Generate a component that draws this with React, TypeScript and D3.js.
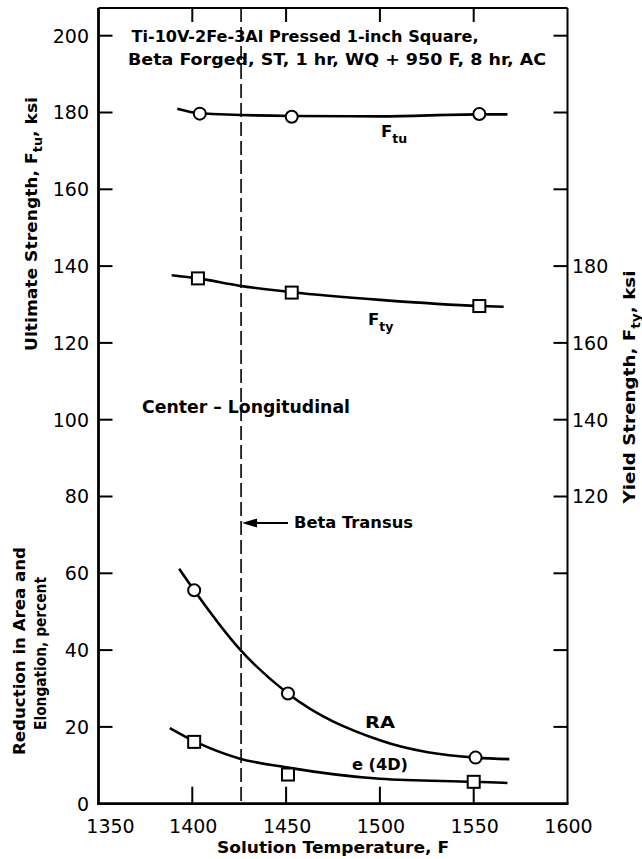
import React from "react";
import * as d3 from "d3";

// ---- data ----
const xTicks = [1350, 1400, 1450, 1500, 1550, 1600];
const topTicks = [1400, 1450, 1500, 1550];
const leftTicks = [0, 20, 40, 60, 80, 100, 120, 140, 160, 180, 200];
const rightTickLabels = [120, 140, 160, 180];
const betaTransus = 1426;

// Ultimate strength (left axis, ksi)
const ftuTemps = [1404, 1453, 1553];
const ftuValues = [179.7, 178.9, 179.6];
const ftuCurveTemps = [1392, 1404, 1453, 1500, 1553, 1568];
const ftuCurveValues = [181.0, 179.8, 179.1, 179.0, 179.5, 179.5];

// Yield strength (right axis, ksi)
const ftyTemps = [1403, 1453, 1553];
const ftyValues = [176.8, 173.1, 169.6];
const ftyCurveTemps = [1389, 1403, 1425, 1453, 1500, 1553, 1566];
const ftyCurveValues = [177.6, 176.8, 174.9, 173.2, 171.2, 169.6, 169.4];

// Reduction in area (percent)
const raTemps = [1401, 1451, 1551];
const raValues = [55.6, 28.7, 12.0];
const raCurveTemps = [1393, 1401, 1425, 1451, 1500, 1551, 1569];
const raCurveValues = [61.2, 55.6, 40.4, 28.7, 16.5, 12.0, 11.6];

// Elongation (percent)
const elTemps = [1401, 1451, 1550];
const elValues = [16.1, 7.6, 5.7];
const elCurveTemps = [1388, 1401, 1425, 1451, 1500, 1550, 1568];
const elCurveValues = [19.7, 16.3, 11.8, 9.4, 6.5, 5.7, 5.4];

const W = 642;
const H = 859;
const TOP = 8;
const BOLD = "'DejaVu Sans', sans-serif";

export default function App() {
  const x = d3.scaleLinear().domain([1350, 1600]).range([98.5, 567.5]);
  const y = d3.scaleLinear().domain([0, 200]).range([803.7, 35.7]);
  const yR = (v: number) => y(v - 40);
  const left = x(1350);
  const right = x(1600);
  const bottom = y(0);

  const mkLine = (ys: (v: number) => number) =>
    d3
      .line<[number, number]>()
      .x((d) => x(d[0]))
      .y((d) => ys(d[1]))
      .curve(d3.curveMonotoneX);

  const zip = (a: number[], b: number[]) => a.map((t, i) => [t, b[i]] as [number, number]);

  const lineL = mkLine(y);
  const lineR = mkLine(yR);

  const circle = (cx: number, cy: number, k: string) => (
    <circle key={k} cx={cx} cy={cy} r={6} fill="#fff" stroke="#000" strokeWidth={2} />
  );
  const square = (cx: number, cy: number, k: string) => (
    <rect key={k} x={cx - 6} y={cy - 6} width={12} height={12} fill="#fff" stroke="#000" strokeWidth={2} />
  );

  const tickFont = { fontFamily: "'DejaVu Sans', sans-serif", fontSize: 19, fill: "#000" } as const;
  const boldFont = { fontFamily: BOLD, fontWeight: "bold" as const, fill: "#000" };

  return (
    <svg
      width={W}
      height={H}
      viewBox={`0 0 ${W} ${H}`}
      style={{ position: "absolute", left: 0, top: 0, background: "#fff" }}
    >
      <rect x={0} y={0} width={W} height={H} fill="#fff" />

      {/* frame */}
      <line x1={left} y1={TOP} x2={left} y2={bottom} stroke="#000" strokeWidth={2.8} />
      <line x1={left - 1.4} y1={bottom} x2={right + 1} y2={bottom} stroke="#000" strokeWidth={2.8} />
      <line x1={left} y1={TOP} x2={right} y2={TOP} stroke="#000" strokeWidth={2} />
      <line x1={right} y1={TOP} x2={right} y2={bottom} stroke="#000" strokeWidth={2} />

      {/* left ticks + labels */}
      {leftTicks.map((v) => (
        <g key={"lt" + v}>
          {v > 0 && <line x1={left} x2={left + 14} y1={y(v)} y2={y(v)} stroke="#000" strokeWidth={2} />}
          {v > 0 && <line x1={right} x2={right - 14} y1={y(v)} y2={y(v)} stroke="#000" strokeWidth={2} />}
          <text x={89} y={y(v)} dy="0.36em" textAnchor="end" {...tickFont}>
            {v}
          </text>
        </g>
      ))}

      {/* right tick labels */}
      {rightTickLabels.map((v) => (
        <text key={"rt" + v} x={572} y={yR(v)} dy="0.36em" textAnchor="start" {...tickFont}>
          {v}
        </text>
      ))}

      {/* bottom ticks + labels */}
      {xTicks.map((t) => (
        <g key={"bt" + t}>
          {t > 1350 && t < 1600 && (
            <line x1={x(t)} x2={x(t)} y1={bottom} y2={bottom - 17} stroke="#000" strokeWidth={2} />
          )}
          <text x={x(t) + (t === 1350 ? 12 : 1)} y={833} textAnchor="middle" {...tickFont}>
            {t}
          </text>
        </g>
      ))}
      {topTicks.map((t) => (
        <line key={"tt" + t} x1={x(t)} x2={x(t)} y1={TOP} y2={TOP + 14} stroke="#000" strokeWidth={2} />
      ))}

      {/* beta transus dashed line */}
      <line
        x1={x(betaTransus)}
        x2={x(betaTransus)}
        y1={TOP}
        y2={bottom}
        stroke="#000"
        strokeWidth={1.6}
        strokeDasharray="14 5"
      />

      {/* curves */}
      <path d={lineL(zip(ftuCurveTemps, ftuCurveValues)) || ""} fill="none" stroke="#000" strokeWidth={2.6} />
      <path d={lineR(zip(ftyCurveTemps, ftyCurveValues)) || ""} fill="none" stroke="#000" strokeWidth={2.6} />
      <path d={lineL(zip(raCurveTemps, raCurveValues)) || ""} fill="none" stroke="#000" strokeWidth={2.6} />
      <path d={lineL(zip(elCurveTemps, elCurveValues)) || ""} fill="none" stroke="#000" strokeWidth={2.6} />

      {/* markers */}
      {ftuTemps.map((t, i) => circle(x(t), y(ftuValues[i]), "ftu" + i))}
      {ftyTemps.map((t, i) => square(x(t), yR(ftyValues[i]), "fty" + i))}
      {raTemps.map((t, i) => circle(x(t), y(raValues[i]), "ra" + i))}
      {elTemps.map((t, i) => square(x(t), y(elValues[i]), "el" + i))}

      {/* title */}
      <text x={131.5} y={42} fontSize={16} textLength={347} lengthAdjust="spacingAndGlyphs" {...boldFont}>
        Ti-10V-2Fe-3Al Pressed 1-inch Square,
      </text>
      <text x={128} y={65} fontSize={16} textLength={418} lengthAdjust="spacingAndGlyphs" {...boldFont}>
        Beta Forged, ST, 1 hr, WQ + 950 F, 8 hr, AC
      </text>

      {/* curve labels */}
      <text x={381} y={137} fontSize={16.5} {...boldFont}>
        F<tspan fontSize={12.5} dy={6}>tu</tspan>
      </text>
      <text x={368} y={325} fontSize={16.5} {...boldFont}>
        F<tspan fontSize={12.5} dy={6}>ty</tspan>
      </text>
      <text x={365} y={728} fontSize={16} textLength={30} lengthAdjust="spacingAndGlyphs" {...boldFont}>
        RA
      </text>
      <text x={352} y={770} fontSize={16} textLength={56} lengthAdjust="spacingAndGlyphs" {...boldFont}>
        e (4D)
      </text>

      <text x={142} y={413} fontSize={17} textLength={208} lengthAdjust="spacingAndGlyphs" {...boldFont}>
        Center – Longitudinal
      </text>

      {/* beta transus annotation */}
      <line x1={x(betaTransus) + 10} x2={288} y1={523} y2={523} stroke="#000" strokeWidth={2} />
      <path
        d={`M${x(betaTransus) + 1},523 L${x(betaTransus) + 16},518.5 L${x(betaTransus) + 16},527.5 Z`}
        fill="#000"
      />
      <text x={294} y={528} fontSize={16} textLength={119} lengthAdjust="spacingAndGlyphs" {...boldFont}>
        Beta Transus
      </text>

      {/* axis titles */}
      <text x={333} y={853} fontSize={16} textAnchor="middle" textLength={232} lengthAdjust="spacingAndGlyphs" {...boldFont}>
        Solution Temperature, F
      </text>

      <g transform="translate(37,224) rotate(-90)">
        <text x={0} y={0} fontSize={16} textAnchor="middle" textLength={254} lengthAdjust="spacingAndGlyphs" {...boldFont}>
          Ultimate Strength, F<tspan fontSize={12} dy={5}>tu</tspan>
          <tspan dy={-5}>, ksi</tspan>
        </text>
      </g>

      <g transform="translate(25,651) rotate(-90)">
        <text x={0} y={0} fontSize={16} textAnchor="middle" textLength={208} lengthAdjust="spacingAndGlyphs" {...boldFont}>
          Reduction in Area and
        </text>
      </g>
      <g transform="translate(46,653.5) rotate(-90)">
        <text x={0} y={0} fontSize={16} textAnchor="middle" textLength={153} lengthAdjust="spacingAndGlyphs" {...boldFont}>
          Elongation, percent
        </text>
      </g>

      <g transform="translate(635,387) rotate(-90)">
        <text x={0} y={0} fontSize={16} textAnchor="middle" textLength={233} lengthAdjust="spacingAndGlyphs" {...boldFont}>
          Yield Strength, F<tspan fontSize={12} dy={5}>ty</tspan>
          <tspan dy={-5}>, ksi</tspan>
        </text>
      </g>
    </svg>
  );
}
